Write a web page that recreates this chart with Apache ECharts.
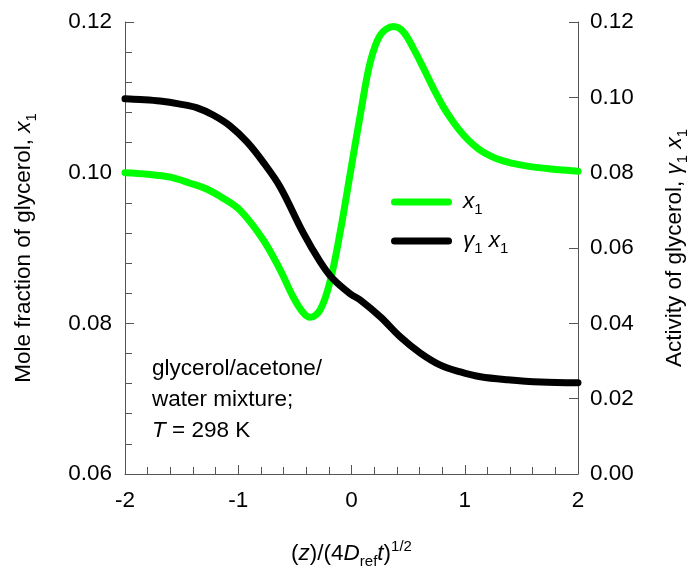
<!DOCTYPE html>
<html><head><meta charset="utf-8">
<script src="https://cdn.jsdelivr.net/npm/echarts@6/dist/echarts.min.js"></script>
<style>html,body{margin:0;padding:0;background:#fff}#c{width:696px;height:572px}</style>
</head><body><div id="c"></div>
<script>
// Mole fraction of glycerol x1 (left axis)
const moleZ = [-2.0, -1.8, -1.6, -1.425, -1.275, -1.133, -0.983, -0.78, -0.63, -0.515, -0.426, -0.364, -0.276, -0.187, -0.099, -0.01, 0.078, 0.166, 0.255, 0.37, 0.458, 0.546, 0.635, 0.723, 0.812, 0.9, 0.989, 1.077, 1.165, 1.289, 1.404, 1.581, 1.758, 2.0];
const moleX1 = [0.1000, 0.0998, 0.0994, 0.0986, 0.0978, 0.0966, 0.0950, 0.0911, 0.0871, 0.0835, 0.0814, 0.0808, 0.0818, 0.0857, 0.0922, 0.1000, 0.1077, 0.1147, 0.1183, 0.1194, 0.1187, 0.1165, 0.1139, 0.1112, 0.1087, 0.1067, 0.1050, 0.1037, 0.1027, 0.1018, 0.1013, 0.1008, 0.1005, 0.1002];
// Activity of glycerol gamma1*x1 (right axis)
const actZ = [-2.0, -1.867, -1.691, -1.514, -1.363, -1.222, -1.072, -0.921, -0.78, -0.63, -0.426, -0.276, -0.17, -0.01, 0.077, 0.255, 0.431, 0.608, 0.785, 0.962, 1.139, 1.378, 1.669, 2.0];
const actGammaX1 = [0.0996, 0.0994, 0.0990, 0.0982, 0.0972, 0.0953, 0.0924, 0.0881, 0.0828, 0.0762, 0.0640, 0.0563, 0.0520, 0.0478, 0.0462, 0.0417, 0.0364, 0.0321, 0.0289, 0.0271, 0.0258, 0.0250, 0.0244, 0.0242];
// axis ranges / ticks
const xRange = [-2, 2], xStep = 1;
const leftRange = [0.06, 0.12], leftStep = 0.02;
const rightRange = [0.00, 0.12], rightStep = 0.02;
const annotationLines = ['glycerol/acetone/', 'water mixture;', '{i|T} = 298 K'];

const F = "'Liberation Sans', Arial, Helvetica, sans-serif";
const FS = 22.5;
const SS = 15;
const rich = {
  i: {fontSize: FS, fontStyle: 'italic', fontFamily: F, color: '#000', lineHeight: 30},
  i0: {fontSize: FS, fontStyle: 'italic', fontFamily: F, color: '#000', lineHeight: 30, padding: [0, 0, 0, 6]},
  n: {fontSize: FS, fontFamily: F, color: '#000', lineHeight: 30},
  s: {fontSize: SS, fontFamily: F, color: '#000', verticalAlign: 'bottom', lineHeight: 17},
  u: {fontSize: SS, fontFamily: F, color: '#000', verticalAlign: 'top', lineHeight: 17}
};
const nameStyle = {fontSize: FS, fontFamily: F, color: '#000', lineHeight: 30, rich: rich};
const axisCol = '#555';

const chart = echarts.init(document.getElementById('c'), null, {renderer: 'canvas'});
const legendBase = {
  orient: 'vertical', left: 391, padding: 0, itemWidth: 61, itemHeight: 7, selectedMode: false,
  icon: 'path://M3.5,0 H57.5 A3.5,3.5 0 0 1 57.5,7 H3.5 A3.5,3.5 0 0 1 3.5,0 Z',
  textStyle: {fontSize: FS, fontFamily: F, color: '#000', lineHeight: 30, rich: rich},
  formatter: function (name) {
    return name === 'x1' ? '{i0|x}{s|1}' : '{i0|γ}{s|1}{n| }{i|x}{s|1}';
  }
};
chart.setOption({
  animation: false,
  backgroundColor: '#fff',
  grid: {left: 125, right: 118, top: 22, bottom: 98, containLabel: false, outerBoundsMode: 'none'},
  legend: [
    Object.assign({}, legendBase, {top: 187, data: ['x1']}),
    Object.assign({}, legendBase, {top: 226, data: ['gx1']})
  ],
  xAxis: {
    type: 'value', min: xRange[0], max: xRange[1], interval: xStep,
    axisLine: {show: true, onZero: false, lineStyle: {color: axisCol, width: 1}},
    axisTick: {show: true, inside: true, length: 9, lineStyle: {color: axisCol}},
    minorTick: {show: true, splitNumber: 5, length: 7, lineStyle: {color: axisCol}},
    splitLine: {show: false},
    axisLabel: {fontSize: FS, fontFamily: F, color: '#000', margin: 15, formatter: v => String(v)},
    name: '({i|z})/(4{i|D}{s|ref}{i|t}){u|1/2}',
    nameLocation: 'middle', nameGap: 65, nameTextStyle: nameStyle
  },
  yAxis: [
    {
      type: 'value', min: leftRange[0], max: leftRange[1], interval: leftStep, position: 'left',
      axisLine: {show: true, onZero: false, lineStyle: {color: axisCol, width: 1}},
      axisTick: {show: true, inside: true, length: 9, lineStyle: {color: axisCol}},
      minorTick: {show: true, splitNumber: 5, length: 7, lineStyle: {color: axisCol}},
      splitLine: {show: false},
      axisLabel: {fontSize: FS, fontFamily: F, color: '#000', margin: 13, formatter: v => v.toFixed(2)},
      name: 'Mole fraction of glycerol, {i|x}{s|1}', nameLocation: 'middle', nameRotate: 90,
      nameGap: 86, nameTextStyle: nameStyle
    },
    {
      type: 'value', min: rightRange[0], max: rightRange[1], interval: rightStep, position: 'right',
      axisLine: {show: true, onZero: false, lineStyle: {color: axisCol, width: 1}},
      axisTick: {show: true, inside: true, length: 9, lineStyle: {color: axisCol}},
      splitLine: {show: false},
      axisLabel: {fontSize: FS, fontFamily: F, color: '#000', margin: 12, formatter: v => v.toFixed(2)},
      name: 'Activity of glycerol, {i|γ}{s|1} {i|x}{s|1}', nameLocation: 'middle', nameRotate: 90,
      nameGap: 82, nameTextStyle: nameStyle
    }
  ],
  series: [
    {
      name: 'x1', type: 'line', yAxisIndex: 0, smooth: 0.35, showSymbol: false, symbol: 'none',
      lineStyle: {color: '#00ff00', width: 7, cap: 'round', join: 'round'},
      itemStyle: {color: '#00ff00'},
      data: moleZ.map((z, k) => [z, moleX1[k]]), z: 2
    },
    {
      name: 'gx1', type: 'line', yAxisIndex: 1, smooth: 0.35, showSymbol: false, symbol: 'none',
      lineStyle: {color: '#000000', width: 7, cap: 'round', join: 'round'},
      itemStyle: {color: '#000000'},
      data: actZ.map((z, k) => [z, actGammaX1[k]]), z: 3
    }
  ],
  graphic: annotationLines.map((t, k) => ({
    type: 'text', x: 152, y: 369 + k * 31,
    style: {text: t, fontSize: FS, fontFamily: F, fill: '#000', verticalAlign: 'middle', align: 'left', rich: rich}
  }))
});
</script></body></html>
